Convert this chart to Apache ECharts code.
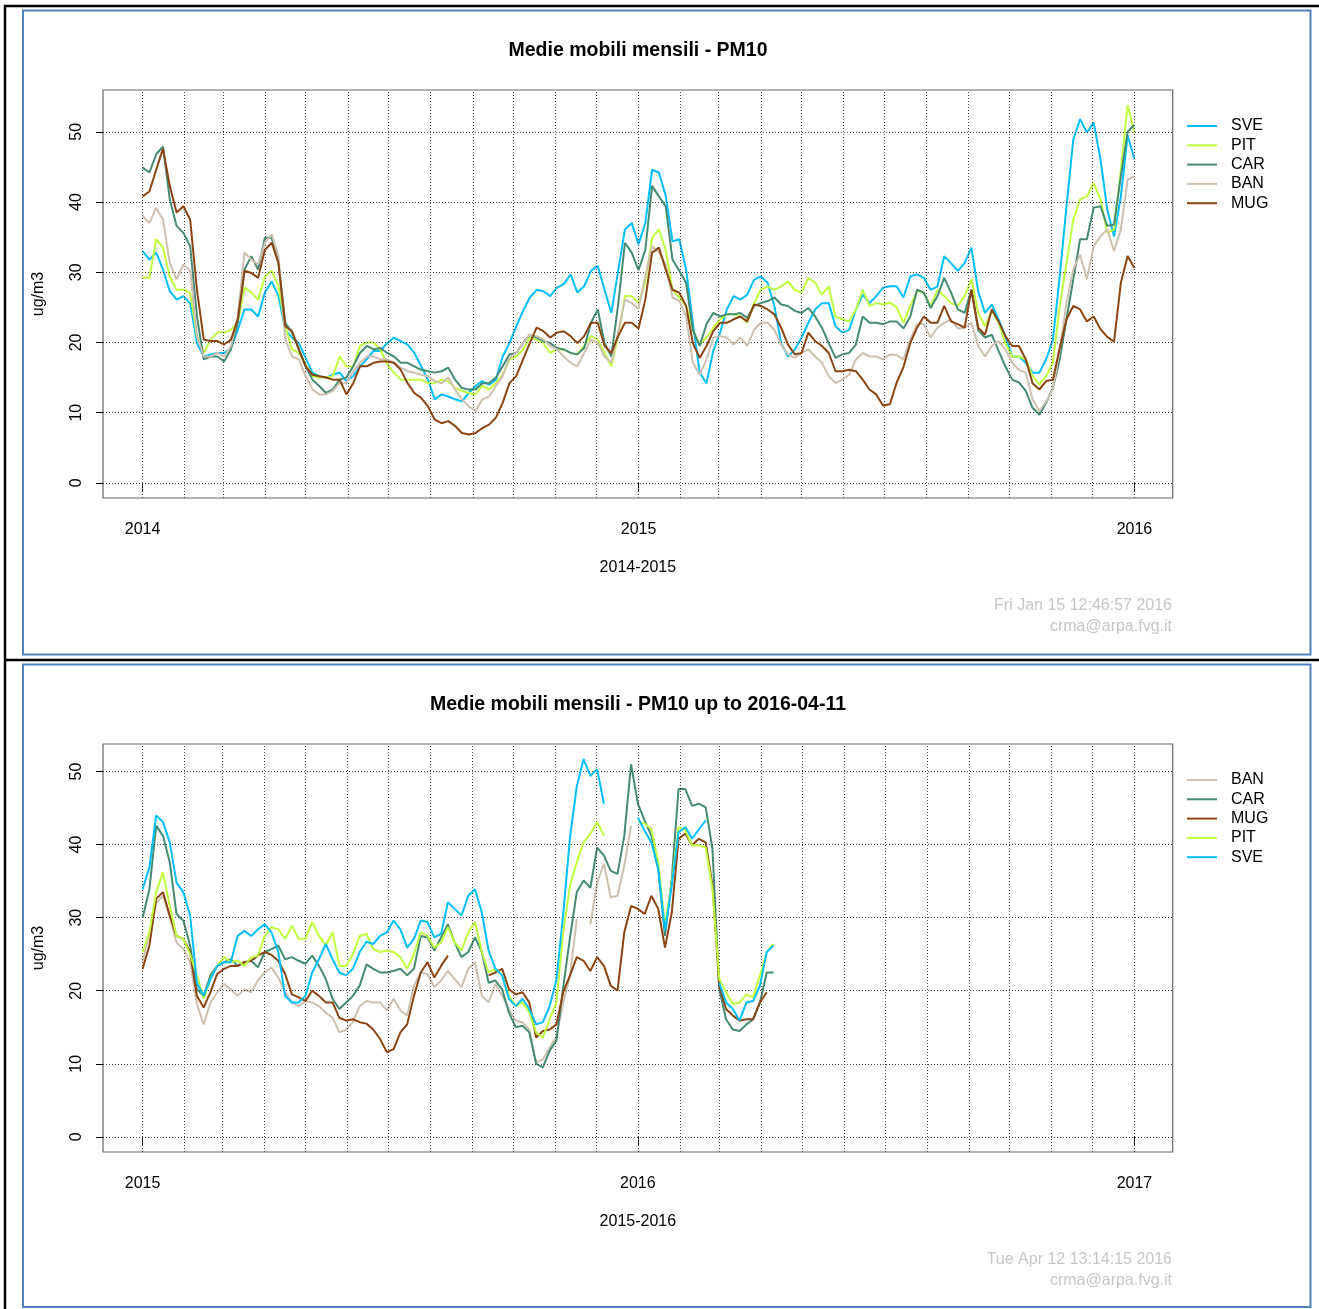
<!DOCTYPE html>
<html>
<head>
<meta charset="utf-8">
<title>Medie mobili mensili - PM10</title>
<script src="https://cdn.jsdelivr.net/npm/echarts@6/dist/echarts.min.js"></script>
<style>
  html, body { margin: 0; padding: 0; background: #ffffff; }
  #chart { width: 1319px; height: 1309px; }
</style>
</head>
<body>
<div id="chart"></div>
<script>
// Monthly moving averages of PM10 (ug/m3), one value every 5 days.
const sampleStepDays = 5;

// Panel 1: 2014-2015 (first sample 2014-01-01)
const startA = '2014-01-01';
const rangeA = ['2014-01-01', '2015-12-31'];
const yearTicksA = ['2014-01-01', '2015-01-01', '2016-01-01'];
const stationsA = ['SVE', 'PIT', 'CAR', 'BAN', 'MUG'];

const SVE_A = [
  33.0, 31.8, 32.8, 30.4, 27.3, 26.1, 26.6, 25.6, 19.9, 18.0, 18.3, 18.5, 18.5, 19.2, 21.8, 24.7, 24.7, 23.7, 27.1, 28.7,
  26.6, 21.8, 20.7, 19.9, 17.8, 15.7, 15.2, 15.0, 15.4, 15.7, 14.5, 15.2, 16.6, 17.6,
  18.8, 18.8, 19.9, 20.7, 20.2, 19.7, 18.5, 16.6, 14.7, 11.9, 12.6, 12.3, 11.9, 11.6, 12.8, 13.8, 14.5, 14.0, 14.7, 18.0,
  19.9, 22.3, 24.5, 26.4, 27.5, 27.3, 26.6, 27.8, 28.3, 29.7, 27.1, 28.0, 30.2, 30.9, 27.5, 24.2, 30.2, 36.1, 37.0,
  34.0, 37.0, 44.6, 44.2, 40.9, 34.4, 34.7, 30.4, 22.8, 15.7, 14.2, 18.8, 21.4, 24.7, 26.6, 26.1, 26.8, 28.9, 29.4, 28.5,
  25.2, 19.9, 18.0, 19.0, 20.7, 22.8, 24.7, 25.6, 25.6, 22.3, 21.4, 21.8, 24.7, 26.8, 25.6, 26.6, 27.8, 28.0, 28.0, 26.4,
  29.4, 29.7, 29.2, 27.5, 28.0, 32.3, 31.3, 30.2, 31.3, 33.5, 27.3, 24.2, 25.4, 23.3, 20.9, 18.0, 18.0, 17.1, 15.7, 15.7,
  17.6, 20.4, 29.4, 39.4, 48.9, 51.8, 49.9, 51.3, 46.1, 38.9, 35.1, 40.8, 49.5, 46.1
];
const PIT_A = [
  29.2, 29.2, 34.7, 33.5, 29.4, 27.5, 27.5, 27.1, 20.9, 18.5, 20.4, 21.4, 21.4, 21.8, 22.8, 27.8, 27.1, 26.1, 29.4, 30.2,
  28.0, 22.3, 19.0, 18.5, 16.9, 15.2, 15.0, 15.0, 15.2, 18.0, 16.6, 16.6, 19.5, 20.0,
  20.0, 19.0, 16.9, 15.7, 14.7, 14.7, 14.7, 14.7, 14.2, 14.2, 14.7, 14.5, 13.5, 13.1, 12.8, 12.6, 13.8, 13.3, 14.2, 15.4,
  17.6, 18.0, 19.0, 20.7, 20.4, 19.9, 18.5, 19.0, 19.0, 18.5, 18.3, 19.5, 20.9, 20.4, 18.5, 16.6, 20.9, 26.6, 26.6,
  25.6, 28.5, 34.9, 36.1, 33.2, 27.5, 26.4, 25.2, 21.8, 19.7, 20.7, 22.1, 23.3, 24.0, 24.0, 23.7, 22.8, 25.6, 27.5, 28.0,
  27.5, 28.0, 28.7, 27.5, 27.1, 29.2, 28.5, 26.8, 28.0, 23.7, 23.3, 23.0, 24.7, 27.5, 25.2, 25.6, 25.4, 25.7, 25.0, 22.8,
  25.2, 27.3, 27.1, 25.2, 27.5, 26.6, 25.6, 25.2, 26.6, 29.0, 24.2, 22.3, 24.5, 22.8, 19.9, 18.0, 18.0, 17.6, 15.2, 14.0,
  15.2, 17.1, 25.2, 31.3, 37.5, 40.4, 40.8, 42.7, 40.4, 35.6, 36.1, 44.6, 53.8, 49.9
];
const CAR_A = [
  44.9, 44.2, 46.8, 47.9, 40.4, 36.6, 35.6, 33.7, 23.7, 17.6, 18.0, 18.0, 17.3, 19.0, 22.8, 30.4, 32.3, 30.4, 34.9, 34.9,
  31.3, 22.8, 21.4, 19.0, 16.6, 14.7, 13.8, 12.8, 13.3, 14.7, 15.0, 16.6, 18.5, 19.5,
  19.0, 19.2, 18.5, 18.0, 17.1, 17.1, 16.6, 16.1, 15.9, 15.7, 15.9, 16.4, 14.7, 13.5, 13.3, 13.3, 14.2, 14.2, 15.0, 16.6,
  18.3, 18.5, 19.9, 21.1, 20.7, 20.2, 19.9, 19.2, 19.0, 18.5, 18.3, 19.2, 22.8, 24.7, 19.9, 18.0, 25.4, 34.2, 32.8,
  30.3, 33.2, 42.3, 40.8, 39.4, 31.8, 30.2, 28.5, 21.8, 19.5, 22.6, 24.2, 23.7, 24.0, 24.0, 24.2, 23.5, 25.2, 25.6, 25.9,
  26.4, 25.4, 25.2, 24.5, 24.2, 24.9, 23.7, 22.1, 19.9, 17.8, 18.3, 18.5, 19.7, 23.7, 22.8, 22.8, 22.6, 23.0, 23.0, 22.0,
  23.7, 27.5, 27.1, 24.9, 26.6, 29.2, 27.1, 24.7, 24.2, 27.5, 21.8, 20.7, 21.1, 18.8, 16.6, 14.7, 14.3, 13.1, 10.7, 9.7,
  11.4, 13.5, 17.6, 23.3, 29.0, 34.7, 34.7, 39.2, 39.4, 36.6, 36.8, 43.7, 50.0, 51.0
];
const BAN_A = [
  38.0, 37.0, 39.2, 37.5, 31.3, 29.0, 31.1, 30.2, 20.9, 18.0, 18.0, 18.5, 18.0, 19.5, 23.7, 32.8, 31.8, 31.1, 34.2, 35.4,
  32.3, 20.4, 18.0, 17.6, 15.2, 13.3, 12.6, 12.6, 13.1, 14.2, 14.2, 15.9, 17.1, 18.0,
  18.0, 17.6, 17.6, 17.1, 16.4, 15.9, 15.7, 15.4, 15.2, 14.5, 14.2, 15.0, 13.3, 11.9, 10.9, 10.2, 11.9, 12.3, 13.8, 15.2,
  17.8, 18.5, 19.9, 21.1, 20.9, 20.4, 19.5, 19.0, 18.0, 17.1, 16.6, 18.5, 20.4, 19.9, 18.0, 17.1, 21.4, 26.1, 25.6,
  24.8, 29.4, 33.7, 32.8, 31.1, 26.4, 25.9, 23.7, 17.1, 15.4, 17.6, 20.7, 20.9, 20.7, 19.7, 20.7, 19.5, 21.8, 22.8, 22.8,
  21.8, 19.7, 18.3, 17.8, 18.5, 19.0, 18.0, 17.1, 15.2, 14.2, 14.7, 15.4, 17.6, 18.5, 18.0, 18.0, 17.6, 18.3, 18.2, 17.6,
  20.4, 22.6, 22.6, 20.7, 22.1, 22.8, 23.3, 22.0, 22.1, 22.8, 19.5, 18.0, 19.5, 20.2, 19.0, 17.1, 16.1, 15.7, 11.9, 10.2,
  11.6, 13.3, 19.0, 25.6, 30.4, 32.5, 29.0, 33.7, 35.1, 36.1, 33.0, 36.1, 43.2, 43.7
];
const MUG_A = [
  40.8, 41.5, 44.6, 47.6, 42.3, 38.5, 39.4, 37.5, 27.5, 20.4, 20.2, 20.2, 19.7, 20.4, 23.3, 30.2, 29.9, 29.2, 33.2, 34.2,
  31.3, 22.3, 21.6, 19.0, 16.6, 15.4, 15.2, 15.0, 14.7, 14.7, 12.6, 14.2, 16.6, 16.6,
  17.1, 17.3, 17.3, 17.1, 16.1, 14.2, 12.8, 12.1, 10.9, 9.0, 8.5, 8.8, 8.1, 7.1, 6.9, 7.1, 7.8, 8.3, 9.3, 11.4,
  14.2, 15.2, 17.6, 19.9, 22.1, 21.6, 20.7, 21.4, 21.6, 20.9, 19.9, 20.9, 22.8, 22.8, 19.5, 18.5, 20.9, 22.8, 22.8,
  22.0, 26.1, 32.8, 33.5, 30.4, 27.5, 27.1, 25.2, 19.9, 17.8, 19.5, 21.6, 22.8, 22.8, 23.3, 23.7, 23.0, 25.4, 25.2, 24.7,
  24.0, 22.1, 19.7, 18.3, 18.5, 21.4, 20.2, 19.5, 18.5, 15.9, 15.9, 16.1, 15.9, 14.7, 13.3, 12.6, 11.0, 11.2, 14.3, 16.5,
  19.9, 22.1, 23.7, 22.8, 22.8, 25.2, 23.0, 22.6, 22.1, 27.5, 22.1, 21.1, 24.7, 23.0, 20.9, 19.5, 19.5, 17.6, 14.2, 13.3,
  14.5, 14.7, 19.2, 23.3, 25.2, 24.7, 23.0, 23.7, 21.9, 20.8, 20.1, 28.5, 32.3, 30.6
];

// Panel 2: 2015-2016 up to 2016-04-11 (first sample 2015-01-01), null = no value
const startB = '2015-01-01';
const rangeB = ['2015-01-01', '2016-12-31'];
const yearTicksB = ['2015-01-01', '2016-01-01', '2017-01-01'];
const stationsB = ['BAN', 'CAR', 'MUG', 'PIT', 'SVE'];

const SVE_B = [
  33.9, 36.9, 44.0, 43.1, 40.3, 34.8, 33.5, 30.3, 21.1, 19.3, 21.6, 23.4, 23.9, 23.9, 27.5, 28.2, 27.5, 28.4, 29.1, 28.0,
  25.3, 19.3, 18.4, 18.4, 19.3, 22.5, 24.3, 26.4, 24.3, 22.5, 22.1, 23.0, 25.3,
  26.7, 26.4, 27.5, 28.0, 29.6, 28.4, 25.9, 27.1, 29.6, 29.4, 27.3, 27.8, 32.1, 31.2, 30.3, 33.0, 33.9, 30.7, 25.5, 23.0,
  22.1, 18.9, 17.9, 18.9, 17.5,
  15.4, 15.7, 17.9, 21.5, 30.5, 41.0, 48.0, 51.7, 49.4, 50.3, 45.6, null, null, null, null,
  43.7, 41.9, 40.3, 36.7, 28.2, 34.4, 41.7, 42.4, 40.8, 42.1, 43.3, null, 21.1, 18.4, 17.5, 15.9, 18.4, 18.6, 20.7, 25.3,
  26.2
];
const PIT_B = [
  25.3, 28.0, 33.5, 36.2, 31.6, 27.5, 27.1, 25.0, 22.1, 18.9, 21.6, 23.4, 24.6, 23.9, 24.1, 23.4, 24.6, 24.8, 27.5, 28.7,
  28.4, 27.1, 28.9, 27.1, 27.1, 29.4, 27.5, 26.2, 28.0, 23.4, 23.4, 25.0, 27.5,
  27.8, 25.7, 25.3, 25.5, 25.3, 24.6, 23.0, 25.0, 28.0, 27.5, 25.9, 26.6, 28.7, 26.6, 25.5, 28.0, 29.4, 25.3, 22.5, 23.0,
  22.1, 19.3, 17.9, 18.4, 17.0,
  14.3, 13.6, 16.1, 18.4, 28.0, 34.4, 37.6, 40.3, 41.5, 43.1, 41.2, null, null, null, null,
  43.1, 42.9, 42.1, 37.6, 28.9, 34.8, 42.4, 41.9, 39.9, 39.9, 39.6, 33.9, 21.6, 19.8, 18.2, 18.4, 19.5, 19.1, 22.1, 25.3,
  26.4
];
const CAR_B = [
  30.0, 33.9, 42.6, 41.2, 37.6, 30.5, 29.6, 26.2, 20.2, 19.3, 22.1, 23.4, 23.9, 24.3, 23.4, 23.9, 24.1, 23.2, 25.3, 25.7,
  26.2, 24.3, 24.6, 24.1, 23.7, 24.8, 23.4, 21.6, 18.9, 17.5, 18.4, 19.3, 20.7,
  23.6, 23.0, 22.5, 22.5, 22.7, 23.0, 22.1, 23.0, 27.5, 27.3, 25.5, 27.3, 29.1, 26.6, 24.6, 25.3, 27.3, 25.3, 21.1, 21.4,
  20.2, 17.0, 15.0, 15.2, 14.3,
  10.0, 9.5, 11.8, 13.2, 20.5, 27.3, 33.5, 35.1, 34.1, 39.6, 38.5, 36.4, 36.0, 41.2, 51.0,
  45.6, 43.3, 41.2, 36.7, 27.5, 35.3, 47.6, 47.6, 45.3, 45.6, 45.1, 39.4, 20.2, 16.1, 14.7, 14.5, 15.4, 16.1, 18.4, 22.5,
  22.5
];
const BAN_B = [
  24.0, 28.0, 32.0, 33.0, 30.0, 26.6, 25.7, 23.9, 18.2, 15.4, 18.4, 19.8, 20.9, 20.2, 19.3, 20.2, 19.8, 21.4, 22.5, 23.2,
  21.8, 19.8, 18.4, 17.9, 18.6, 18.4, 17.9, 17.0, 16.3, 14.3, 14.7, 15.7, 17.9,
  18.6, 18.4, 18.4, 17.3, 18.9, 17.3, 16.6, 20.7, 22.5, 22.3, 20.5, 21.4, 22.7, 21.6, 20.5, 23.0, 23.9, 19.3, 18.4, 20.9,
  19.3, 17.5, 15.9, 15.7, 14.7,
  10.2, 10.6, 12.2, 13.8, 18.4, 22.1, 29.8, null, 29.1, 34.8, 37.4, 32.8, 33.0, 37.1, 42.6,
  null, null, null, null, null, null, null, null, null, null, null, null, null, null, null, null, null, null, null, null,
  null
];
const MUG_B = [
  23.0, 26.2, 32.6, 33.5, 30.3, 27.5, 27.1, 25.3, 19.3, 17.7, 19.8, 22.3, 23.0, 23.4, 23.4, 23.9, 24.1, 24.8, 25.3, 24.9,
  24.1, 22.3, 19.5, 19.1, 18.6, 20.0, 19.3, 18.4, 18.4, 16.3, 15.9, 16.1, 15.7,
  15.5, 14.7, 13.4, 11.6, 12.0, 14.3, 15.4, 19.3, 22.5, 23.9, 21.8, 23.4, 24.8, null, null, null, null, null, 22.1, 22.5,
  23.0, 20.2, 19.5, 19.8, 18.4,
  13.6, 14.5, 14.7, 15.4, 19.8, 22.1, 24.6, 24.1, 22.7, 24.6, 23.4, 20.7, 20.0, 28.0, 31.6,
  31.2, 30.5, 33.0, 31.2, 25.9, 30.7, 40.8, 41.5, 39.9, 40.8, 40.3, 34.4, 20.7, 17.5, 16.6, 15.9, 16.1, 16.1, 18.4, 19.8,
  null
];

const yTickValues = [0, 10, 20, 30, 40, 50];

// ---------------------------------------------------------------------------
const stationColor = {
  SVE: '#00BFFF',
  PIT: '#C0FF3E',
  CAR: '#458B74',
  BAN: '#CDC0B0',
  MUG: '#8B4513'
};
const FONT = '"Liberation Sans", Arial, Helvetica, sans-serif';
const DAY = 864e5;
const toTs = s => Date.parse(s + 'T00:00:00Z');

function pairs(start, values) {
  const t0 = toTs(start);
  return values.map((v, i) => [t0 + i * sampleStepDays * DAY, v]);
}

function monthStarts(range, lastTick) {
  const out = [];
  const a = new Date(toTs(range[0]));
  const end = toTs(lastTick);
  let y = a.getUTCFullYear(), m = a.getUTCMonth();
  while (Date.UTC(y, m, 1) <= end) {
    out.push(Date.UTC(y, m, 1));
    m++; if (m > 11) { m = 0; y++; }
  }
  return out;
}

const panels = [
  {
    title: 'Medie mobili mensili - PM10',
    xName: '2014-2015',
    start: startA, range: rangeA, yearTicks: yearTicksA, order: stationsA,
    values: { SVE: SVE_A, PIT: PIT_A, CAR: CAR_A, BAN: BAN_A, MUG: MUG_A },
    stamp: ['Fri Jan 15 12:46:57 2016', 'crma@arpa.fvg.it'],
    offsetY: 0
  },
  {
    title: 'Medie mobili mensili - PM10 up to 2016-04-11',
    xName: '2015-2016',
    start: startB, range: rangeB, yearTicks: yearTicksB, order: stationsB,
    values: { BAN: BAN_B, CAR: CAR_B, MUG: MUG_B, PIT: PIT_B, SVE: SVE_B },
    stamp: ['Tue Apr 12 13:14:15 2016', 'crma@arpa.fvg.it'],
    offsetY: 654
  }
];

const option = {
  animation: false,
  backgroundColor: '#ffffff',
  title: [], grid: [], xAxis: [], yAxis: [], legend: [], series: [],
  graphic: []
};

// page frame
option.graphic.push(
  { type: 'line', silent: true, shape: { x1: 4, y1: 6, x2: 1319, y2: 6 }, style: { stroke: '#000', lineWidth: 2.5 } },
  { type: 'line', silent: true, shape: { x1: 5, y1: 5, x2: 5, y2: 1309 }, style: { stroke: '#000', lineWidth: 2.5 } },
  { type: 'line', silent: true, shape: { x1: 5, y1: 660, x2: 1319, y2: 660 }, style: { stroke: '#000', lineWidth: 2.5 } },
  { type: 'rect', silent: true, shape: { x: 23, y: 10.5, width: 1287.5, height: 644 }, style: { fill: 'none', stroke: '#4F81BD', lineWidth: 2 } },
  { type: 'rect', silent: true, shape: { x: 23, y: 664.5, width: 1287.5, height: 642.5 }, style: { fill: 'none', stroke: '#4F81BD', lineWidth: 2 } }
);

panels.forEach((p, idx) => {
  const oy = p.offsetY;
  const plotTop = 90 + oy;
  const plotH = 408;

  // R-style ranges: 4% padding on both axes
  const t0 = toTs(p.range[0]), t1 = toTs(p.range[1]);
  const xPad = 0.04 * (t1 - t0);
  let ymax = 0;
  p.order.forEach(s => p.values[s].forEach(v => { if (v != null && v > ymax) ymax = v; }));
  const yPad = 0.04 * ymax;

  option.title.push({
    text: p.title,
    left: 638, top: 41 + oy, textAlign: 'center', padding: 0,
    textStyle: { fontFamily: FONT, fontSize: 19.5, fontWeight: 'bold', color: '#000' }
  });

  option.grid.push({
    left: 103, top: plotTop, width: 1069.7, height: plotH,
    show: true, borderColor: '#666', borderWidth: 1.2, backgroundColor: 'transparent'
  });

  // time on a numeric axis (UTC milliseconds)
  const yearTs = p.yearTicks.map(toTs);
  option.xAxis.push({
    type: 'value', gridIndex: idx,
    min: t0 - xPad, max: t1 + xPad,
    axisLine: { show: false },
    axisTick: { show: true, customValues: yearTs, length: 9, lineStyle: { color: '#000', width: 1 } },
    axisLabel: {
      customValues: yearTs, margin: 24,
      formatter: v => String(new Date(v).getUTCFullYear()),
      fontFamily: FONT, fontSize: 16, color: '#000'
    },
    splitLine: { show: false },
    name: p.xName, nameLocation: 'middle', nameGap: 62,
    nameTextStyle: { fontFamily: FONT, fontSize: 16, color: '#000' }
  });

  option.yAxis.push({
    type: 'value', gridIndex: idx,
    min: -yPad, max: ymax + yPad,
    axisLine: { show: false },
    axisTick: { show: true, customValues: yTickValues, length: 7, lineStyle: { color: '#000', width: 1 } },
    axisLabel: {
      customValues: yTickValues, rotate: 90, margin: 18,
      fontFamily: FONT, fontSize: 16, color: '#000'
    },
    splitLine: { show: false },
    name: 'ug/m3', nameLocation: 'middle', nameGap: 56, nameRotate: 90,
    nameTextStyle: { fontFamily: FONT, fontSize: 16, color: '#000' }
  });

  // dotted reference grid: month starts and y ticks
  const months = monthStarts(p.range, p.yearTicks[p.yearTicks.length - 1]);
  option.series.push({
    type: 'line', name: 'grid-' + idx, xAxisIndex: idx, yAxisIndex: idx,
    data: [], silent: true, z: 1,
    markLine: {
      silent: true, animation: false, symbol: ['none', 'none'],
      label: { show: false },
      emphasis: { disabled: true },
      lineStyle: { color: '#444', type: [1, 2], width: 1 },
      data: months.map(t => ({ xAxis: t })).concat(yTickValues.map(v => ({ yAxis: v })))
    }
  });

  p.order.forEach((s, i) => {
    option.series.push({
      type: 'line', name: s, xAxisIndex: idx, yAxisIndex: idx,
      data: pairs(p.start, p.values[s]),
      showSymbol: false, symbol: 'none', connectNulls: false,
      color: stationColor[s],
      lineStyle: { width: 2, color: stationColor[s] },
      emphasis: { disabled: true },
      z: 3 + i
    });
  });

  option.legend.push({
    data: p.order, orient: 'vertical', left: 1187, top: 118 + oy,
    icon: 'rect', itemWidth: 30, itemHeight: 2, itemGap: 3.3, padding: 0,
    selectedMode: false,
    textStyle: { fontFamily: FONT, fontSize: 16, color: '#000', lineHeight: 16, padding: [0, 0, 0, 9] }
  });

  option.graphic.push(
    { type: 'text', silent: true, x: 1172, y: 606 + oy,
      style: { text: p.stamp[0], fill: '#c6c6c6', font: '16px ' + FONT, align: 'right', verticalAlign: 'middle' } },
    { type: 'text', silent: true, x: 1172, y: 627 + oy,
      style: { text: p.stamp[1], fill: '#c6c6c6', font: '16px ' + FONT, align: 'right', verticalAlign: 'middle' } }
  );
});

const chart = echarts.init(document.getElementById('chart'), null, { renderer: 'canvas' });
chart.setOption(option);
</script>
</body>
</html>
